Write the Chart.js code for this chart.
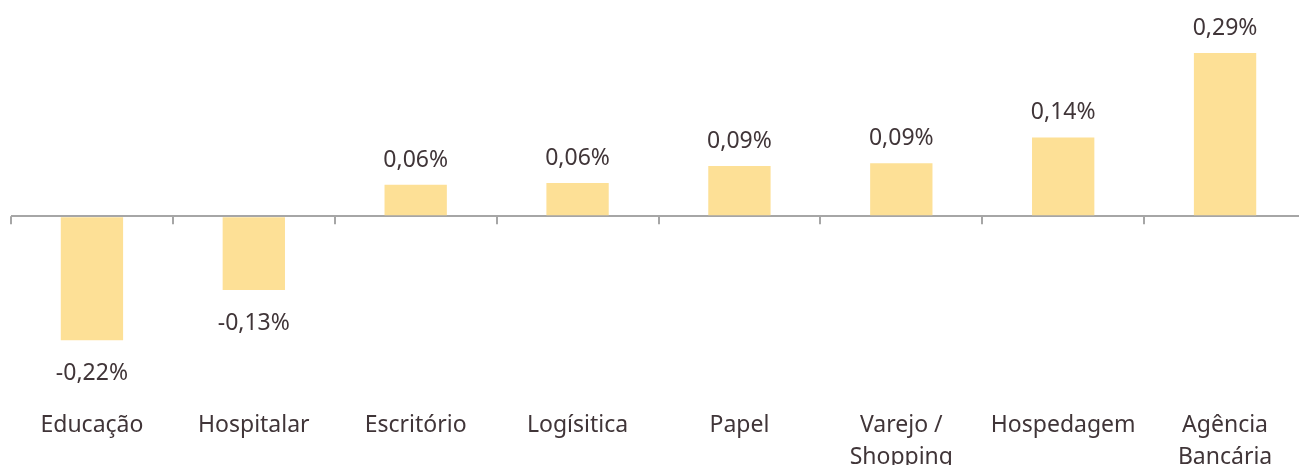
<!DOCTYPE html>
<html>
<head>
<meta charset="utf-8">
<script src="https://cdn.jsdelivr.net/npm/chart.js@4"></script>
<style>
  html, body { margin: 0; padding: 0; background: #fff; overflow: hidden; }
  #wrap { width: 1310px; height: 480px; }
</style>
</head>
<body>
<div id="wrap"><canvas id="chart"></canvas></div>
<script>
// categories and values (percent)
var categorias = ['Educação', 'Hospitalar', 'Escritório', 'Logísitica', 'Papel', ['Varejo /', 'Shopping'], 'Hospedagem', ['Agência', 'Bancária']];
var valores = [-0.22, -0.131, 0.056, 0.059, 0.089, 0.094, 0.14, 0.29];

var textColor = '#403538';
var fontFamily = "'Noto Sans', sans-serif";

// value labels above / below each bar
var valueLabels = {
    id: 'valueLabels',
    afterDatasetsDraw: function (chart) {
        var ctx = chart.ctx;
        var meta = chart.getDatasetMeta(0);
        ctx.save();
        ctx.font = '23px ' + fontFamily;
        ctx.fillStyle = textColor;
        ctx.textAlign = 'center';
        meta.data.forEach(function (bar, i) {
            var v = valores[i];
            var txt = v.toFixed(2).replace('.', ',') + '%';
            if (v >= 0) {
                ctx.textBaseline = 'bottom';
                ctx.fillText(txt, bar.x, bar.y - 13);
            } else {
                ctx.textBaseline = 'top';
                ctx.fillText(txt, bar.x, bar.y + 22);
            }
        });
        ctx.restore();
    }
};

// short tick marks on the zero line at category boundaries
var zeroTicks = {
    id: 'zeroTicks',
    afterDatasetsDraw: function (chart) {
        var ctx = chart.ctx;
        var x = chart.scales.x;
        var y0 = chart.scales.y.getPixelForValue(0);
        var step = x.getPixelForValue(1) - x.getPixelForValue(0);
        ctx.save();
        ctx.strokeStyle = '#a6a6a6';
        ctx.lineWidth = 2;
        for (var i = 0; i <= valores.length; i++) {
            var px = Math.round(x.getPixelForValue(i) - step / 2);
            ctx.beginPath();
            ctx.moveTo(px, y0);
            ctx.lineTo(px, y0 + 8);
            ctx.stroke();
        }
        ctx.restore();
    }
};

var ctx = document.getElementById('chart').getContext('2d');
new Chart(ctx, {
    type: 'bar',
    data: {
        labels: categorias,
        datasets: [{
            data: valores,
            backgroundColor: '#fde096',
            barPercentage: 0.385,
            categoryPercentage: 1
        }]
    },
    options: {
        responsive: true,
        maintainAspectRatio: false,
        animation: false,
        layout: { padding: { left: 11, right: 4, top: 0, bottom: 0 } },
        plugins: {
            legend: { display: false },
            tooltip: { enabled: false }
        },
        scales: {
            x: {
                offset: true,
                grid: { display: false },
                border: { display: false },
                ticks: {
                    color: textColor,
                    font: { family: fontFamily, size: 23, lineHeight: 1.4 },
                    padding: 6,
                    maxRotation: 0,
                    autoSkip: false
                }
            },
            y: {
                min: -0.3185,
                max: 0.384,
                display: true,
                ticks: { display: false },
                border: { display: false },
                grid: {
                    drawTicks: false,
                    lineWidth: 2,
                    color: function (c) { return c.tick && c.tick.value === 0 ? '#a6a6a6' : 'rgba(0,0,0,0)'; }
                },
                afterFit: function (s) { s.width = 0; }
            }
        }
    },
    plugins: [valueLabels, zeroTicks]
});
</script>
</body>
</html>
